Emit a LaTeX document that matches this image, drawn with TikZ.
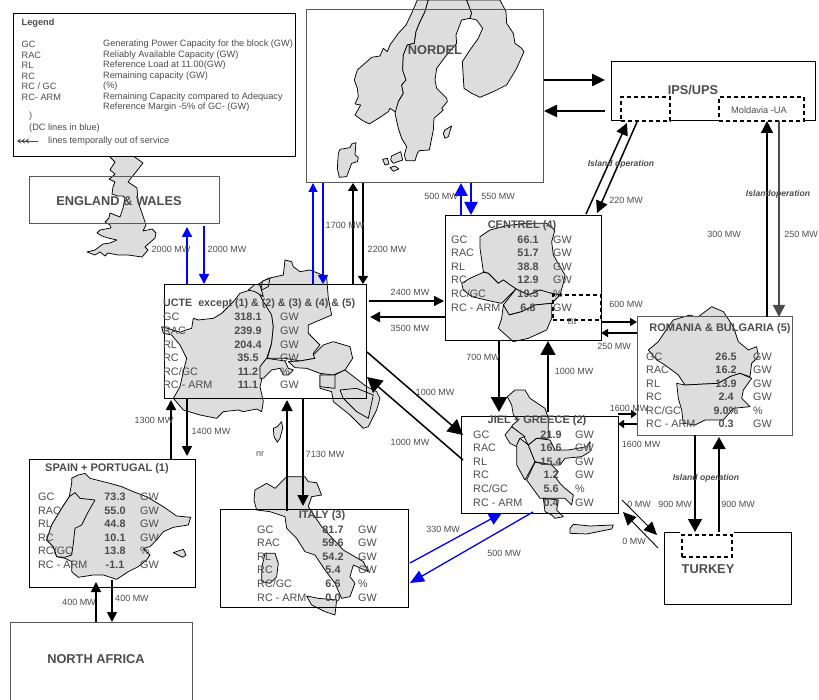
\documentclass[tikz,border=0pt]{standalone}
\usepackage{fontspec}
\setmainfont{Liberation Sans}
\newfontfamily\blockserif{Liberation Serif}
\usetikzlibrary{arrows.meta,calc}
\definecolor{inktext}{gray}{0.30}
\definecolor{mapland}{gray}{0.865}
\tikzset{
  land/.style={fill=mapland,draw=black,line width=0.75pt,line join=round},
  blockbox/.style={draw=black,line width=0.9pt,inner sep=0pt,outer sep=0pt},
  greybox/.style={draw=black!65,line width=1pt,inner sep=0pt,outer sep=0pt},
  dashbox/.style={draw=black,line width=1.4pt,dash pattern=on 4pt off 3pt,inner sep=0pt,outer sep=0pt},
  mwlabel/.style={font=\fontsize{9}{9}\selectfont,text=inktext,inner sep=0pt},
  islandlabel/.style={font=\fontsize{8.6}{9}\selectfont\bfseries\itshape,text=inktext,inner sep=0pt},
  blocktitle/.style={font=\fontsize{11}{11}\selectfont\bfseries,text=inktext,inner sep=0pt},
  bigtitle/.style={font=\fontsize{12.8}{13}\selectfont\bfseries,text=inktext,inner sep=0pt},
  rowlab/.style={font=\fontsize{10.8}{11}\selectfont,text=inktext,inner sep=0pt,anchor=west},
  rowval/.style={font=\fontsize{10.8}{11}\selectfont\bfseries,text=inktext,inner sep=0pt},
  legendtext/.style={font=\fontsize{9.2}{9}\selectfont,text=inktext,inner sep=0pt,anchor=west},
  flow/.style n args={3}{line width=#1,-{Triangle[length=#2,width=#3]}}
}
\begin{document}
\begin{tikzpicture}[x=1pt,y=-1pt]
\useasboundingbox (0,0) rectangle (819,700);
\begin{scope}[shift={(300,0)},x=0.3333pt,y=-0.3333pt]
\draw[land] plot coordinates {(352,0)(335,40)(318,75)(295,100)(270,135)(262,155)(250,145)(240,168)(215,172)(172,210)(163,240)(172,265)(175,290)(165,312)(182,315)(165,345)(185,360)(208,372)(240,352)(265,335)(270,325)(285,335)(293,340)(295,305)(310,280)(305,255)(318,240)(308,210)(310,165)(322,135)(343,130)(348,95)(358,70)(375,35)(385,0)} -- cycle;
\draw[land] plot coordinates {(385,0)(375,35)(358,70)(348,95)(343,130)(322,135)(310,165)(308,210)(318,240)(305,255)(310,280)(295,305)(285,340)(295,385)(305,415)(320,440)(313,465)(318,482)(345,482)(352,460)(358,452)(388,450)(400,390)(402,355)(430,330)(425,325)(442,305)(440,295)(410,265)(405,240)(410,205)(440,165)(470,130)(468,105)(485,60)(510,55)(515,40)(500,0)} -- cycle;
\draw[land] plot coordinates {(500,0)(515,40)(510,55)(530,60)(548,85)(535,115)(510,150)(487,185)(492,265)(515,280)(540,292)(580,275)(620,255)(650,205)(672,155)(665,145)(645,130)(640,100)(620,70)(618,35)(600,0)} -- cycle;
\draw[land] plot coordinates {(435,390)(455,378)(445,410)(435,415)(430,400)} -- cycle;
\draw[land] plot coordinates {(120,448)(150,443)(155,432)(168,428)(165,465)(175,472)(172,485)(155,490)(140,530)(118,532)(112,505)(115,460)} -- cycle;
\draw[land] plot coordinates {(275,468)(302,455)(308,480)(280,490)(272,480)} -- cycle;
\draw[land] plot coordinates {(248,478)(262,475)(267,492)(255,495)} -- cycle;
\draw[land] plot coordinates {(270,503)(285,498)(297,507)(280,514)} -- cycle;
\end{scope}
\draw[land] plot coordinates {(110,150)(110,157)(115,162)(110,170)(115,174)(112,177)(109,179)(115,182)(113,187)(112,194)(118,196)(123,196)(125,198)(123,208)(120,217)(110,213)(109,218)(105,222)(110,225)(111,228)(100,230)(97,233)(102,236)(108,238)(117,240)(110,243)(103,244)(95,250)(87,252)(95,255)(100,252)(105,256)(108,253)(118,255)(128,255)(135,256)(142,257)(148,250)(145,247)(155,238)(156,233)(152,229)(143,231)(146,225)(142,213)(138,202)(137,188)(128,182)(143,163)(125,150)} -- cycle;
\begin{scope}[shift={(160,255)},x=0.3333pt,y=-0.3333pt]
\draw[land] plot coordinates {(5,215)(30,222)(60,232)(78,225)(95,220)(100,190)(115,195)(160,190)(185,175)(220,140)(240,115)(270,105)(285,90)(300,120)(335,175)(340,215)(335,265)(320,310)(300,340)(305,375)(300,395)(310,440)(305,470)(290,462)(250,470)(235,465)(190,470)(170,490)(120,480)(70,465)(40,430)(60,395)(70,350)(80,310)(60,270)(35,240)(10,235)} -- cycle;
\draw[land] plot coordinates {(290,90)(325,70)(370,60)(375,15)(395,20)(400,35)(420,50)(450,45)(500,65)(505,130)(515,180)(445,210)(445,235)(480,270)(460,295)(465,310)(420,318)(375,310)(340,310)(322,310)(335,265)(340,215)(335,180)(310,140)(300,120)} -- cycle;
\draw[land] plot coordinates {(305,90)(308,78)(330,70)(325,95)(305,105)} -- cycle;
\draw[land] plot coordinates {(265,105)(285,88)(300,90)(310,125)(285,110)} -- cycle;
\draw[land] plot coordinates {(300,340)(300,335)(320,310)(375,318)(385,340)(400,345)(385,360)(370,360)(360,340)(335,345)(310,370)(300,370)} -- cycle;
\draw[land] plot coordinates {(460,300)(490,270)(520,260)(570,275)(578,310)(555,345)(520,360)(480,355)(440,340)(405,338)(385,320)(420,318)(465,310)} -- cycle;
\draw[land] plot coordinates {(480,360)(520,362)(555,345)(620,395)(650,410)(660,430)(650,465)(625,515)(610,520)(570,480)(520,440)(515,410)(480,400)} -- cycle;
\draw[land] plot coordinates {(480,395)(525,400)(525,360)(480,360)} -- cycle;
\draw[land] plot coordinates {(540,405)(590,400)(640,420)(625,490)(590,470)(550,430)} -- cycle;
\draw[land] plot coordinates {(340,520)(352,515)(365,500)(368,520)(360,550)(352,562)(342,545)} -- cycle;
\end{scope}
\begin{scope}[shift={(0,440)},x=0.3333pt,y=-0.3333pt]
\draw[land] plot coordinates {(215,115)(235,105)(255,100)(270,115)(330,130)(365,140)(400,155)(440,170)(490,200)(530,228)(572,232)(565,255)(520,262)(490,275)(470,300)(450,320)(430,325)(450,345)(440,360)(415,380)(385,395)(350,418)(310,405)(280,405)(235,412)(215,395)(215,365)(195,355)(170,350)(160,320)(140,300)(155,255)(185,205)(208,170)(215,130)} -- cycle;
\draw[land] plot coordinates {(208,170)(225,158)(240,175)(285,180)(265,215)(245,255)(225,265)(220,310)(215,345)(195,352)(170,350)(160,320)(140,300)(155,255)(185,205)} -- cycle;
\draw[land] plot coordinates {(520,338)(550,328)(558,345)(548,352)} -- cycle;
\draw[land] plot coordinates {(765,150)(800,130)(825,145)(860,110)(915,110)(925,125)(950,128)(965,165)(935,170)(925,200)(965,260)(1030,330)(1090,365)(1105,395)(1060,375)(1050,410)(1065,430)(1050,470)(1025,475)(1005,430)(975,390)(945,345)(915,335)(890,295)(860,265)(855,230)(810,215)(770,210)(762,180)} -- cycle;
\draw[land] plot coordinates {(920,468)(955,475)(1010,480)(1005,525)(975,515)(935,495)} -- cycle;
\draw[land] plot coordinates {(795,340)(825,340)(835,370)(830,410)(810,430)(785,425)(785,385)} -- cycle;
\end{scope}
\begin{scope}[shift={(450,215)},x=0.3333pt,y=-0.3333pt]
\draw[land] plot coordinates {(90,65)(120,45)(170,32)(225,25)(290,25)(315,45)(305,80)(310,120)(345,180)(340,205)(330,240)(305,235)(280,230)(270,225)(235,240)(198,222)(180,210)(160,195)(145,205)(115,175)(100,170)(95,135)(90,100)} -- cycle;
\draw[land] plot coordinates {(35,205)(60,190)(100,172)(115,175)(145,205)(160,195)(198,222)(155,265)(130,260)(65,245)(40,225)} -- cycle;
\draw[land] plot coordinates {(198,222)(235,240)(270,225)(305,235)(330,240)(305,265)(255,270)(215,290)(175,300)(160,270)} -- cycle;
\draw[land] plot coordinates {(160,270)(178,300)(215,290)(255,270)(305,265)(305,310)(290,345)(235,370)(190,380)(145,340)(155,310)} -- cycle;
\end{scope}
\begin{scope}[shift={(500,385)},x=0.3333pt,y=-0.3333pt]
\draw[land] plot coordinates {(22,35)(45,15)(75,15)(90,40)(135,70)(145,100)(145,160)(110,160)(85,180)(72,155)(35,125)(38,120)(55,105)(40,90)(35,60)} -- cycle;
\draw[land] plot coordinates {(35,125)(15,150)(30,175)(50,185)(60,160)(75,155)} -- cycle;
\draw[land] plot coordinates {(60,160)(85,180)(105,230)(75,285)(50,240)(50,180)} -- cycle;
\draw[land] plot coordinates {(85,180)(110,160)(150,165)(165,195)(205,195)(260,185)(270,170)(270,200)(245,215)(195,220)(180,240)(155,240)(105,230)} -- cycle;
\draw[land] plot coordinates {(105,232)(155,240)(175,260)(165,275)(180,295)(195,310)(220,330)(215,360)(195,340)(120,340)(80,285)} -- cycle;
\draw[land] plot coordinates {(130,340)(175,345)(170,375)(190,395)(165,400)(155,390)(135,380)} -- cycle;
\draw[land] plot coordinates {(210,430)(220,418)(270,423)(340,420)(335,432)(260,447)(210,445)} -- cycle;
\end{scope}
\begin{scope}[shift={(640,300)},x=0.3333pt,y=-0.3333pt]
\draw[land] plot coordinates {(25,150)(55,125)(75,95)(100,60)(150,45)(165,50)(175,50)(215,20)(250,35)(280,80)(295,125)(325,150)(350,140)(355,170)(335,190)(330,230)(300,220)(270,230)(235,250)(135,255)(115,225)(75,195)(50,180)} -- cycle;
\draw[land] plot coordinates {(110,250)(135,255)(235,250)(270,230)(300,220)(335,235)(310,270)(305,295)(330,320)(280,325)(250,360)(195,360)(165,375)(130,370)(125,330)(115,295)} -- cycle;
\end{scope}
\node[blockbox,fill=white,minimum width=282pt,minimum height=143pt] (legend) at (154,84.5) {};
\node[greybox,minimum width=190pt,minimum height=47pt] (england) at (124,200.5) {};
\node[greybox,minimum width=237pt,minimum height=173pt] (nordel) at (424.5,96.5) {};
\node[blockbox,minimum width=204pt,minimum height=59pt] (ips) at (713,90.5) {};
\node[blockbox,minimum width=156pt,minimum height=125pt] (centrel) at (523,277.5) {};
\node[blockbox,minimum width=202pt,minimum height=114pt] (ucte) at (265,341) {};
\node[greybox,minimum width=155pt,minimum height=118pt] (romania) at (714.5,376) {};
\node[blockbox,minimum width=157pt,minimum height=97pt] (jiel) at (539.5,464.5) {};
\node[blockbox,minimum width=127pt,minimum height=72pt] (turkey) at (727.5,568) {};
\node[blockbox,minimum width=166pt,minimum height=128pt] (spain) at (112,523) {};
\node[greybox,minimum width=182pt,minimum height=98pt] (nafrica) at (101,671) {};
\node[blockbox,minimum width=188pt,minimum height=98pt] (italy) at (314,558) {};
\fill[white] (680,530) rectangle (734,535);
\node[dashbox,fill=white,minimum width=49pt,minimum height=24pt] (ipsisland) at (645.5,109) {};
\node[dashbox,fill=white,minimum width=85pt,minimum height=24pt] (moldavia) at (761.5,109) {};
\node[font=\fontsize{9.3}{9}\selectfont,text=inktext,inner sep=0pt] (moldavialab) at (759,110) {Moldavia -UA};
\node[dashbox,minimum width=48pt,minimum height=25pt] (centreldash) at (577,307.5) {};
\node[dashbox,minimum width=50pt,minimum height=22pt] (turkeydash) at (707,546) {};
\coordinate (ucteout) at (367,352);
\coordinate (jielin) at (463,435);
\coordinate (jielout) at (463,460);
\coordinate (uctein) at (367,377);
\coordinate (centup) at (586,214);
\coordinate (ipsin) at (627,123);
\coordinate (ipsout) at (637,122);
\coordinate (centin) at (597,213);
\coordinate (turkeyin) at (657,535);
\coordinate (jielse) at (622,500);
\coordinate (turkeyout) at (658,548);
\coordinate (jielsein) at (623,512);
\coordinate (italyout) at (410,563);
\coordinate (jielblue) at (502,513);
\coordinate (jielbout) at (533,512);
\coordinate (italyin) at (410,583);
\coordinate (legtail) at (38,141);
\coordinate (leghead) at (17,141);
\draw[flow={1.5pt}{10pt}{10pt},blue,shorten >=3pt] (187,0 |- ucte.north) -- (187,0 |- england.south);
\draw[flow={1.5pt}{10pt}{10pt},blue,shorten <=2pt] (204,0 |- england.south) -- (204,0 |- ucte.north);
\draw[flow={1.2pt}{9pt}{9pt},blue] (313,0 |- ucte.north) -- (313,0 |- nordel.south);
\draw[flow={1.2pt}{9pt}{10pt},blue] (323,0 |- nordel.south) -- (323,0 |- ucte.north);
\draw[flow={1.3pt}{8pt}{10pt}] (353,0 |- ucte.north) -- (353,0 |- nordel.south);
\draw[flow={1.3pt}{8pt}{10pt}] (363,0 |- nordel.south) -- (363,0 |- ucte.north);
\draw[flow={1.5pt}{10pt}{10pt},shorten <=3pt,shorten >=1pt] (ucte.east |- 0,301) -- (centrel.west |- 0,301);
\draw[flow={2.5pt}{10pt}{10pt},shorten >=4pt] (centrel.west |- 0,317) -- (ucte.east |- 0,317);
\draw[flow={2.5pt}{13pt}{12pt},shorten <=1pt,shorten >=6pt] (nordel.east |- 0,80) -- (ips.west |- 0,80);
\draw[flow={2.5pt}{13pt}{12pt},shorten <=6pt,shorten >=1pt] (ips.west |- 0,111) -- (nordel.east |- 0,111);
\draw[flow={2.5pt}{13pt}{13pt},blue] (461,0 |- centrel.north) -- (461,0 |- nordel.south);
\draw[flow={2.5pt}{13pt}{13pt},blue] (471,0 |- nordel.south) -- (471,0 |- centrel.north);
\draw[flow={1.5pt}{12pt}{12pt}] (centup) -- (ipsin);
\draw[flow={1.5pt}{12pt}{12pt}] (ipsout) -- (centin);
\draw[flow={1.3pt}{12pt}{12pt},shorten >=1pt] (767,0 |- romania.north) -- (767,0 |- ips.south);
\draw[flow={1.5pt}{12pt}{12pt},draw=black!70,fill=black,shorten <=1pt] (779,0 |- ips.south) -- (779,0 |- romania.north);
\draw[flow={1.5pt}{7pt}{8pt}] (centrel.east |- 0,322) -- (romania.west |- 0,322);
\draw[flow={1.5pt}{7pt}{8pt}] (romania.west |- 0,333) -- (centrel.east |- 0,333);
\draw[flow={2.5pt}{15pt}{16pt},shorten >=4pt] (499,0 |- centrel.south) -- (499,0 |- jiel.north);
\draw[flow={2pt}{14pt}{15pt},shorten >=1pt,shorten <=4pt] (548,0 |- jiel.north) -- (548,0 |- centrel.south);
\draw[flow={1.5pt}{6pt}{8pt}] (jiel.east |- 0,414) -- (romania.west |- 0,414);
\draw[flow={1.5pt}{6pt}{8pt}] (romania.west |- 0,424) -- (jiel.east |- 0,424);
\draw[flow={1.5pt}{13pt}{14pt}] (695,0 |- romania.south) -- (695,0 |- turkey.north);
\draw[flow={1.5pt}{12pt}{13pt},shorten >=2pt] (719,0 |- turkey.north) -- (719,0 |- romania.south);
\draw[flow={0.9pt}{13pt}{12pt}] (jielse) -- (turkeyin);
\draw[flow={0.9pt}{13pt}{12pt}] (turkeyout) -- (jielsein);
\draw[flow={1.5pt}{15pt}{16pt}] (ucteout) -- (jielin);
\draw[flow={1.5pt}{15pt}{16pt}] (jielout) -- (uctein);
\draw[flow={1.5pt}{10pt}{10pt},shorten >=2pt] (171,0 |- spain.north) -- (171,0 |- ucte.south);
\draw[flow={1.5pt}{10pt}{10pt},shorten >=3pt] (187,0 |- ucte.south) -- (187,0 |- spain.north);
\draw[flow={1.5pt}{11pt}{11pt},shorten <=-2pt,shorten >=2pt] (287,0 |- italy.north) -- (287,0 |- ucte.south);
\draw[flow={1.5pt}{11pt}{11pt},shorten >=3pt] (303,0 |- ucte.south) -- (303,0 |- italy.north);
\draw[flow={1.5pt}{10pt}{10pt},shorten >=-5pt] (96,0 |- nafrica.north) -- (96,0 |- spain.south);
\draw[flow={1.5pt}{10pt}{10pt},shorten <=-7pt] (112,0 |- spain.south) -- (112,0 |- nafrica.north);
\draw[flow={1.3pt}{13pt}{12pt},blue] (italyout) -- (jielblue);
\draw[flow={1.3pt}{14pt}{12pt},blue] (jielbout) -- (italyin);
\draw[line width=0.9pt,black!70,{Stealth[length=4pt,width=5pt]Stealth[length=4pt,width=5pt]Stealth[length=4pt,width=5pt]}-] (leghead) -- (legtail);
\node[legendtext,font=\fontsize{9.2}{9}\selectfont\bfseries] (legendhead) at (21.5,23) {Legend};
\foreach \n/\lab/\txt/\y in {a/GC/Generating Power Capacity for the block (GW)/44,b/RAC/Reliably Available Capacity (GW)/55,c/RL/Reference Load at 11.00(GW)/65,d/RC/Remaining capacity (GW)/76,e/{RC / GC}/(\%)/86,f/RC- ARM/Remaining Capacity compared to Adequacy/97}
  {\node[legendtext] (leg\n) at (21.5,\y) {\lab};
   \node[legendtext] (leg\n txt) at (103,\y) {\txt};}
\node[legendtext] (leggtxt) at (103,107) {Reference Margin -5\% of GC- (GW)};
\node[legendtext] (legparen) at (29,116) {)};
\node[legendtext] (legdc) at (29,128) {(DC lines in blue)};
\node[legendtext] (legout) at (48,141) {lines temporally out of service};
\node[bigtitle] (tengland) at (119,201) {ENGLAND \& WALES};
\node[bigtitle] (tnordel) at (435,50) {NORDEL};
\node[bigtitle] (tips) at (693,90) {IPS/UPS};
\node[bigtitle] (tafrica) at (96,659) {NORTH AFRICA};
\node[bigtitle] (tturkey) at (708,569) {TURKEY};
\node[blocktitle] (tcentrel) at (522,226) {CENTREL (4)};
\node[blocktitle,anchor=west,font=\fontsize{10.7}{11}\selectfont\bfseries] (tucte) at (163,304) {UCTE\ \ except (1) \& (2) \& (3) \& (4) \& (5)};
\node[blocktitle] (tspain) at (107,469) {SPAIN + PORTUGAL (1)};
\node[blocktitle] (titaly) at (322,516) {ITALY (3)};
\node[blocktitle] (tjiel) at (537,421) {JIEL + GREECE (2)};
\node[blocktitle] (tromania) at (720,329) {ROMANIA \& BULGARIA (5)};
\foreach \n/\lab/\val/\unit/\y in {a/GC/66.1/GW/240,b/RAC/51.7/GW/253,c/RL/38.8/GW/267,d/RC/12.9/GW/280,e/{RC/GC}/19.5/\%/294,f/RC - ARM/6.8/GW/308}
  {\node[rowlab] (cen\n) at (451,\y) {\lab};
   \node[rowval] (cen\n v) at (528,\y) {\val};
   \node[rowlab] (cen\n u) at (553,\y) {\unit};}
\foreach \n/\lab/\val/\unit/\y in {a/GC/318.1/GW/317,b/RAC/239.9/GW/331,c/RL/204.4/GW/345,d/RC/35.5/GW/358,e/{RC/GC}/11.2/\%/372,f/RC - ARM/11.1/GW/385}
  {\node[rowlab] (uct\n) at (163,\y) {\lab};
   \node[rowval] (uct\n v) at (248,\y) {\val};
   \node[rowlab] (uct\n u) at (280,\y) {\unit};}
\foreach \n/\lab/\val/\unit/\y in {a/GC/73.3/GW/497,b/RAC/55.0/GW/511,c/RL/44.8/GW/524,d/RC/10.1/GW/538,e/{RC/GC}/13.8/\%/551,f/RC - ARM/-1.1/GW/565}
  {\node[rowlab] (spa\n) at (38,\y) {\lab};
   \node[rowval] (spa\n v) at (115,\y) {\val};
   \node[rowlab] (spa\n u) at (140,\y) {\unit};}
\foreach \n/\lab/\val/\unit/\y in {a/GC/81.7/GW/530,b/RAC/59.6/GW/543,c/RL/54.2/GW/557,d/RC/5.4/GW/570,e/{RC/GC}/6.6/\%/584,f/RC - ARM/0.0/GW/598}
  {\node[rowlab] (ita\n) at (257,\y) {\lab};
   \node[rowval] (ita\n v) at (333,\y) {\val};
   \node[rowlab] (ita\n u) at (358,\y) {\unit};}
\foreach \n/\lab/\val/\unit/\y in {a/GC/21.9/GW/435,b/RAC/16.6/GW/448,c/RL/15.4/GW/462,d/RC/1.2/GW/475,e/{RC/GC}/5.6/\%/489,f/RC - ARM/0.4/GW/503}
  {\node[rowlab] (jie\n) at (473,\y) {\lab};
   \node[rowval] (jie\n v) at (551,\y) {\val};
   \node[rowlab] (jie\n u) at (575,\y) {\unit};}
\foreach \n/\lab/\val/\unit/\y in {a/GC/26.5/GW/357,b/RAC/16.2/GW/370,c/RL/13.9/GW/384,d/RC/2.4/GW/397,e/{RC/GC}/9.0\%/\%/411,f/RC - ARM/0.3/GW/424}
  {\node[rowlab] (rom\n) at (646,\y) {\lab};
   \node[rowval] (rom\n v) at (726,\y) {\val};
   \node[rowlab] (rom\n u) at (753,\y) {\unit};}
\foreach \n/\x/\y/\txt in {a/171/249/2000 MW,b/227/249/2000 MW,c/345/225/1700 MW,d/387/249/2200 MW,e/410/292/2400 MW,f/410/328/3500 MW,g/441/196/500 MW,h/498/196/550 MW,i/626/200/220 MW,j/724/234/300 MW,k/801/234/250 MW,l/626/304/600 MW,m/614/346/250 MW,n/483/357/700 MW,o/574/371/1000 MW,p/629/408/1600 MW,q/641/444/1600 MW,r/639/504/0 MW,s/675/504/900 MW,t/738/504/900 MW,u/634/541/0 MW,v/504/553/500 MW,w/443/529/330 MW,x/435/392/1000 MW,y/410/442/1000 MW,z/154/420/1300 MW,aa/211/431/1400 MW,ab/325/454/7130 MW,ac/79/602/400 MW,ad/132/598/400 MW}
  {\node[mwlabel] (mw\n) at (\x,\y) {\txt};}
\node[mwlabel] (nrlabel) at (260,454) {nr};
\node[islandlabel] (islandips) at (621,164) {Island operation};
\node[islandlabel] (islandmold) at (778,194) {Islandoperation};
\node[islandlabel] (islandtur) at (706,478) {Island operation};
\node[mwlabel,font=\fontsize{9}{9}\selectfont\blockserif] (bilabel) at (572,322) {BI};
\end{tikzpicture}
\end{document}
